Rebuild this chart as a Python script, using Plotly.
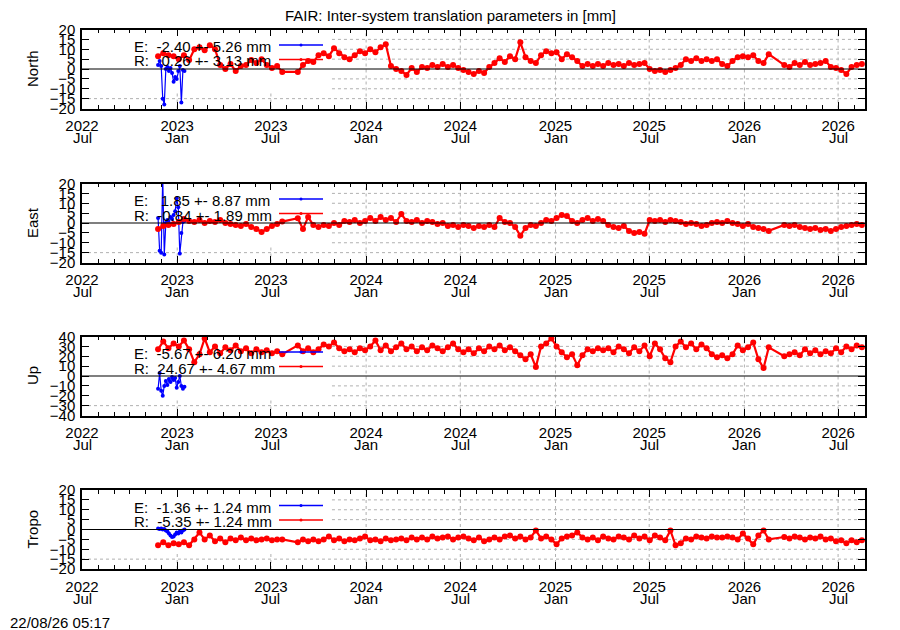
"""
FAIR inter-system translation parameters (4 stacked panels, gnuplot look)
"""
import pandas as pd
import plotly.graph_objects as go


# red = R solutions, every 10 days from red_start (None = no solution, line jumps over)
red_start = "2022-11-25"
# blue = E solutions, every 3 days from blue_start
blue_start = "2022-11-25"

north_r = [6.5, 8, 7, 6.5, 5, 7, 4.5, 10, 11, 9.5, 12, 10, 2, 0, 2.5, -1, 1.5, 2, 4.5, 3,
           5, 2, 0.5, 1.5, -1.5, None, None, -1.5, 2, 4, 3.5, 7, 8, 6.5, 10.5, 8, 6, 5, 7, 9,
           8, 10, 8.5, 11, 12.5, 1.5, 0, -1, -3, 0.5, -1.5, 1, 0.5, 2, 1, 2.5, 1, 2, 0.5, -0.5,
           -1.5, -2.5, -1, -2, 1, 3, 5.5, 3.5, 6.5, 5, 13.5, 6, 4, 3, 7, 9, 8, 8.5, 5, 7.5,
           6, 4, 1.5, 2.5, 1.5, 2.5, 1.5, 3, 2, 2.5, 1.5, 3, 2, 2.5, 3, 0, -1, -0.5, -1.5, -0.5,
           0.5, 2, 5, 4, 5.5, 4, 5, 4, 5, 2.5, 1.5, 4, 6, 6.5, 6, 7, 4, 3, 7.5, None,
           None, 2, 1, 3, 2, 3.5, 2, 2.5, 3, 4, 1, 0.5, -0.5, -2.5, 1, 2, 2.5]
north_e = [2, 4, 1.5, -15, -18, 0, 1, -1, 0.5, -2, -6.5, -4, -5, -1, 1.5, -17, -0.5, -1]

east_r = [-3, -1.5, -1, -0.5, 0.5, 2, 1, 0.5, 1.5, 0, 1, 0.5, 1.5, 0, -0.5, -1, -1.5, -0.5, -2, -3,
          -4.5, -3, -1.5, -0.5, 0.7, None, None, 2.4, -3, 3, -1, -2, -1, -1.5, 0, -1, 1, 0.5, 1.5, 0,
          1, 2.5, 1, 3, 1.5, 2.5, 0.5, 4.5, 1, 0.5, 1.5, 0, 1, 0.5, -0.5, 0, -1.5, -1, -2, -1,
          -1.5, -2.5, -1.5, -2, -1, -2, 2.5, 0.5, 0, -2, -6.5, -2.5, -1, -1.5, 0, 1.5, 1, 2.5, 4, 3.5,
          1, 0, 1.5, 2.5, 1, 2, 1, -1, -2, -2.5, -1.5, -4, -5, -4.5, -5.5, 1.5, 1, 1.5, 0.5, 1.5,
          1, 0.5, -0.5, 0, -0.5, -1.5, -1, 0, 0.5, 0, 1, 0, -0.5, -1.5, -0.5, -2, -2.5, -3, -4, None,
          None, -1, -1.5, -1, -2, -2.5, -3, -2.5, -3.5, -3, -4, -3, -2, -1.5, -1, -0.5, -1]
east_e = [2.5, -14, -15, 23, -16, 0, 1.5, 0, 3, 2, 4, 6, 12.5, 8, -15.5, -5, 0.5, 1]

up_r = [27, 35, 28, 33, 30, 36, 27, 14, 22, 38, 24, 30, 23, 29, 26, 31, 25, 28, 23, 27,
        24, 26, 23, 25, 22, None, None, 31, 25, 28, 24, 27, 32, 30, 34, 28, 25, 27, 24, 28,
        26, 30, 36, 26, 31, 25, 29, 33, 27, 30, 25, 29, 26, 31, 28, 25, 29, 33, 27, 24,
        27, 23, 28, 25, 30, 27, 31, 26, 29, 25, 21, 17, 22, 9, 30, 33, 38, 30, 24, 19,
        22, 11, 21, 27, 25, 28, 26, 28, 24, 30, 27, 23, 29, 25, 31, 20, 33, 27, 18, 14,
        30, 35, 29, 33, 27, 32, 28, 22, 19, 21, 18, 22, 31, 26, 29, 34, 17, 8, 29, None,
        None, 20, 22, 24, 21, 27, 23, 26, 22, 25, 23, 28, 24, 30, 27, 31, 29]
up_e = [-13, 3, -15, -20, -10, -5, -9, -3, -6, -1, -4, -2, -12, -6, 0, -10, -13, -11]

tropo_r = [-8, -6.5, -8, -7, -7.5, -6.5, -8, -5, -1.5, -5, -3, -6, -4.5, -6.5, -4.5, -5.5, -4, -5.5, -4.5, -5.5,
           -5, -4.5, -5.5, -5, -5, None, None, -6.5, -5, -6, -5, -6, -5, -3.5, -5.5, -4.5, -6, -5, -5.5, -4.5,
           -3.5, -5.5, -5, -6, -4.5, -5.5, -5, -4.5, -5.5, -4, -5, -4, -5, -3.5, -4.5, -4, -3.5, -5, -4, -3.5,
           -4.5, -5.5, -4, -6, -5, -4, -5, -3.5, -3, -4.5, -3.5, -5, -4, -0.5, -4.5, -3.5, -5, -7.5, -4.5, -3.5,
           -3, -1.5, -4, -5, -4, -5.5, -3.5, -4.5, -5, -3.5, -4, -5, -3, -4.5, -3.5, -5.5, -3, -4, -5.5, -0.5,
           -8, -7, -4.5, -5, -3.5, -4, -4.5, -3.5, -4, -4, -3.5, -4, -5, -2, -4.5, -7.5, -3, -0.5, -5, None,
           None, -3.8, -4.5, -3.5, -4, -5, -4, -4.5, -3.5, -5, -4.5, -6, -5.5, -7, -5.5, -6.5, -5.5]
tropo_e = [0.5, 0.3, 0.5, 0, 0.3, -0.5, -1, -2, -3, -3.8, -3.5, -2.5, -1.5, -2, -1, -1.5, -0.5, 0]

panel_names = ["North", "East", "Up", "Tropo"]
panel_limits = [20, 20, 40, 20]
panel_steps = [5, 5, 10, 5]
e_labels = ["E:  -2.40 +- 5.26 mm", "E:   1.85 +- 8.87 mm", "E:  -5.67 +- 6.20 mm", "E:  -1.36 +- 1.24 mm"]
r_labels = ["R:   0.26 +- 3.13 mm", "R:  -0.84 +- 1.89 mm", "R:  24.67 +- 4.67 mm", "R:  -5.35 +- 1.24 mm"]

tick_dates = ["2022-07-01", "2023-01-01", "2023-07-01", "2024-01-01", "2024-07-01",
              "2025-01-01", "2025-07-01", "2026-01-01", "2026-07-01"]
tick_years = ["2022", "2023", "2023", "2024", "2024", "2025", "2025", "2026", "2026"]
tick_months = ["Jul", "Jan", "Jul", "Jan", "Jul", "Jan", "Jul", "Jan", "Jul"]
x_start, x_end = "2022-07-01", "2026-08-22"

W, H = 900, 630
FONT = "Liberation Sans, Arial, sans-serif"
FS = 15
GRID = dict(color="#b0b0b0", width=1, dash="dot")
# the key is drawn opaque: grid stays hidden left of this date / above this height
key_end = pd.Timestamp("2023-10-27")
key_bottom = 0.19


def series(start, step, vals):
    dates = pd.date_range(start, periods=len(vals), freq=step)
    keep = [(d, v) for d, v in zip(dates, vals) if v is not None]
    return [d for d, _ in keep], [v for _, v in keep]


def px(x):
    return x / W


def py(y):
    return 1 - y / H


red_sets = [north_r, east_r, up_r, tropo_r]
blue_sets = [north_e, east_e, up_e, tropo_e]
panel_tops = [29.5, 183.5, 336.5, 490]
panel_h = 79
left, right = 82, 865
minor_dates = list(pd.date_range("2022-08-01", "2026-08-01", freq="MS"))

fig = go.Figure()
shapes = []
annotations = []
layout = dict(width=W, height=H, margin=dict(l=0, r=0, t=0, b=0, autoexpand=False),
              paper_bgcolor="white", plot_bgcolor="white", showlegend=False,
              font=dict(family=FONT, size=FS, color="black"))

for k in range(4):
    n = k + 1
    xa = "x" if n == 1 else f"x{n}"
    ya = "y" if n == 1 else f"y{n}"
    top = panel_tops[k]

    bx, by = series(blue_start, "3D", blue_sets[k])
    rx, ry = series(red_start, "10D", red_sets[k])
    fig.add_trace(go.Scatter(x=bx, y=by, mode="lines+markers", xaxis=xa, yaxis=ya,
                             line=dict(color="#0000ff", width=1.2),
                             marker=dict(color="#0000ff", size=4)))
    fig.add_trace(go.Scatter(x=rx, y=ry, mode="lines+markers", xaxis=xa, yaxis=ya,
                             line=dict(color="#ff0000", width=2.2),
                             marker=dict(color="#ff0000", size=6)))

    lim = panel_limits[k]
    layout["xaxis" if n == 1 else f"xaxis{n}"] = dict(
        domain=[px(left), px(right)], anchor=ya, range=[x_start, x_end],
        tickmode="array", tickvals=tick_dates, ticktext=tick_years,
        ticks="inside", ticklen=7, tickwidth=1, tickcolor="black",
        minor=dict(tickmode="array", tickvals=minor_dates, ticks="inside", ticklen=4,
                   tickcolor="black", showgrid=False),
        showline=True, linecolor="black", linewidth=1.5, mirror="ticks",
        showgrid=False, zeroline=False, automargin=False, ticklabelstandoff=3)
    layout["yaxis" if n == 1 else f"yaxis{n}"] = dict(
        domain=[py(top + panel_h), py(top)], anchor=xa, range=[-lim, lim],
        tickmode="linear", tick0=-lim, dtick=panel_steps[k],
        ticks="inside", ticklen=7, tickwidth=1, tickcolor="black",
        showline=True, linecolor="black", linewidth=1.5, mirror="ticks",
        showgrid=False, zeroline=False, automargin=False, ticklabelstandoff=2)

    # month row of the date labels
    for d, m in zip(tick_dates, tick_months):
        annotations.append(dict(x=d, xref=xa, y=py(top + panel_h + 29), yref="paper",
                                text=m, showarrow=False, xanchor="center", yanchor="middle"))

    # dotted grid, left out behind the opaque key
    for v in range(-lim + panel_steps[k], lim, panel_steps[k]):
        if v == 0:
            continue
        frac = (v + lim) / (2 * lim)
        shapes.append(dict(type="line", xref=xa, yref=ya, x0=x_start if frac < key_bottom else key_end,
                           x1=x_end, y0=v, y1=v, line=GRID, layer="below"))
    for d in tick_dates[1:]:
        shapes.append(dict(type="line", xref=xa, yref=f"{ya} domain", x0=d, x1=d, y0=0,
                           y1=key_bottom if pd.Timestamp(d) < key_end else 1,
                           line=GRID, layer="below"))
    shapes.append(dict(type="line", xref=f"{xa} domain", yref=ya, x0=0, x1=1, y0=0, y1=0,
                       line=dict(color="black", width=1.2), layer="above"))

    # key
    for row, (txt, col) in enumerate([(e_labels[k], "#0000ff"), (r_labels[k], "#ff0000")]):
        ty = top + 17 + row * 14.5
        annotations.append(dict(x=px(132), y=py(ty), xref="paper", yref="paper",
                                text=txt, showarrow=False, xanchor="left", yanchor="middle"))
        shapes.append(dict(type="line", xref="paper", yref="paper",
                           x0=px(279), x1=px(323), y0=py(ty - 1.5), y1=py(ty - 1.5),
                           line=dict(color=col, width=1.5)))
        shapes.append(dict(type="circle", xref="paper", yref="paper",
                           x0=px(299.5), x1=px(302.5), y0=py(ty - 3), y1=py(ty),
                           fillcolor=col, line=dict(color=col, width=0)))

    annotations.append(dict(x=px(32), y=py(top + panel_h / 2), xref="paper", yref="paper",
                            text=panel_names[k], textangle=-90, showarrow=False,
                            xanchor="center", yanchor="middle"))

annotations.append(dict(x=0.5, y=py(15), xref="paper", yref="paper", showarrow=False,
                        xanchor="center", yanchor="middle",
                        text="FAIR: Inter-system translation parameters in [mm]"))
annotations.append(dict(x=px(8), y=py(622), xref="paper", yref="paper", showarrow=False,
                        xanchor="left", yanchor="middle", text="22/08/26 05:17"))

layout["shapes"] = shapes
layout["annotations"] = annotations
fig.update_layout(layout)
fig.write_html("out.html", config={"displayModeBar": False},
               post_script="document.body.style.margin='0';")
